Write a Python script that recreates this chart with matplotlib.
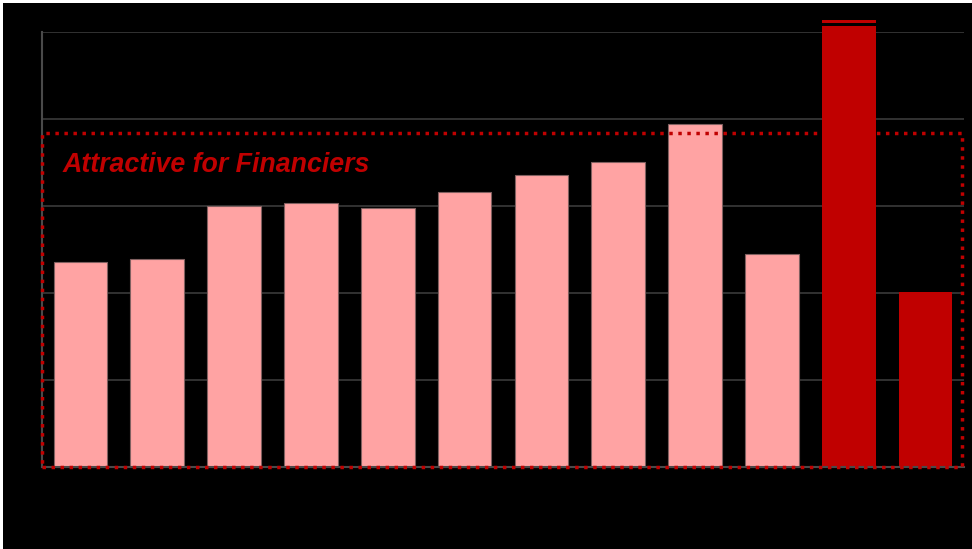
import matplotlib
matplotlib.use("Agg")
import matplotlib.pyplot as plt
from matplotlib.patches import Rectangle
import numpy as np

# values (y axis 0..5, gridlines every 1)
categories = ["1", "2", "3", "4", "5", "6", "7", "8", "9", "10", "11", "12"]
values = [2.36, 2.39, 3.00, 3.03, 2.98, 3.16, 3.36, 3.51, 3.94, 2.45, 5.14, 2.01]
highlight = [False] * 10 + [True, True]
zone_top = 3.84
zone_label = "Attractive for Financiers"

pink = "#FFA3A3"
dark_red = "#C00000"

fig = plt.figure(figsize=(9.72, 5.49), dpi=100, facecolor="white")
# black slide background, thin white margin on top/left like the screenshot
fig.patches.append(Rectangle((3 / 972, 0), 1, 1 - 3 / 549, transform=fig.transFigure,
                             facecolor="black", edgecolor="none", zorder=-10))

ax = fig.add_axes([42 / 972, 82 / 549, 922 / 972, 435 / 549])
ax.set_facecolor("black")

x = np.arange(len(categories))
colors = [dark_red if h else pink for h in highlight]
edges = ["none" if h else "#806060" for h in highlight]
bars = ax.bar(x, values, width=0.70, color=colors, edgecolor=edges, linewidth=0.8,
              zorder=2, clip_on=False)

ax.set_xlim(-0.5, len(categories) - 0.5)
ax.set_ylim(0, 5)
ax.set_yticks(np.arange(0, 6, 1))
ax.yaxis.grid(True, color="#3a3a3a", linewidth=1.2, zorder=0)
ax.set_axisbelow(True)
ax.tick_params(left=False, bottom=False, labelleft=False, labelbottom=False)
for side in ["top", "right"]:
    ax.spines[side].set_visible(False)
for side in ["left", "bottom"]:
    ax.spines[side].set_color("#4a4a4a")
    ax.spines[side].set_linewidth(1.5)

# break mark on the bar that runs off the top
for b, v in zip(bars, values):
    if v > 5:
        ax.add_patch(Rectangle((b.get_x() - 0.02, v - 0.07), b.get_width() + 0.04, 0.035,
                               facecolor="black", edgecolor="none", zorder=3, clip_on=False))

# dotted "attractive" zone
ax.add_patch(Rectangle((-0.5, 0), len(categories) - 0.03, zone_top, fill=False,
                       edgecolor=dark_red, linewidth=2.5, linestyle=(0, (1.0, 1.6)),
                       zorder=4, clip_on=False))
ax.text(-0.23, zone_top - 0.365, zone_label, color=dark_red, fontsize=19.3,
        fontweight="bold", fontstyle="italic", family="Liberation Sans",
        va="center", ha="left", zorder=5)

fig.savefig("out.png", dpi=100, facecolor=fig.get_facecolor())
